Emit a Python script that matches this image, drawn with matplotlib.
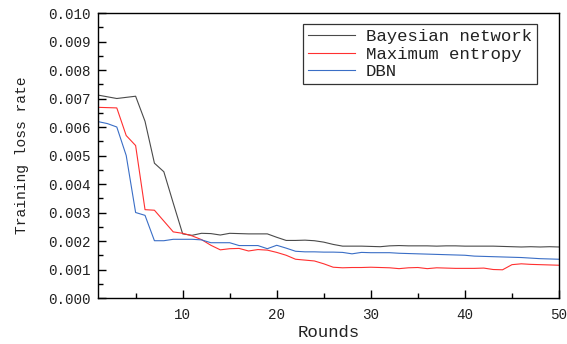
import matplotlib

matplotlib.use("Agg")
import matplotlib.pyplot as plt
from matplotlib.ticker import MultipleLocator, FormatStrFormatter

# ── values ─────────────────────────────────────────────────────────────────
ROUNDS = list(range(1, 51))
BAYES = [0.00712, 0.00706, 0.00700, 0.00704, 0.00708, 0.00620, 0.00473, 0.00443, 0.00333, 0.00225,
         0.00220, 0.00227, 0.00226, 0.00221, 0.00227, 0.00226, 0.00225, 0.00225, 0.00225, 0.00213,
         0.00202, 0.00202, 0.00203, 0.00201, 0.00196, 0.00188, 0.00182, 0.00182, 0.00182, 0.00181,
         0.00180, 0.00183, 0.00184, 0.00183, 0.00183, 0.00183, 0.00182, 0.00183, 0.00183, 0.00182,
         0.00182, 0.00182, 0.00182, 0.00181, 0.00180, 0.00179, 0.00180, 0.00179, 0.00180, 0.00179]
MAXENT = [0.00669, 0.00668, 0.00667, 0.00570, 0.00535, 0.00310, 0.00308, 0.00270, 0.00232, 0.00227,
          0.00218, 0.00205, 0.00185, 0.00169, 0.00173, 0.00174, 0.00165, 0.00170, 0.00168, 0.00160,
          0.00150, 0.00136, 0.00133, 0.00130, 0.00120, 0.00108, 0.00106, 0.00107, 0.00107, 0.00108,
          0.00107, 0.00106, 0.00103, 0.00106, 0.00107, 0.00103, 0.00106, 0.00105, 0.00104, 0.00104,
          0.00104, 0.00105, 0.00100, 0.00099, 0.00117, 0.00120, 0.00118, 0.00117, 0.00116, 0.00115]
DBN = [0.00619, 0.00612, 0.00600, 0.00500, 0.00300, 0.00290, 0.00201, 0.00201, 0.00206, 0.00206,
       0.00206, 0.00204, 0.00194, 0.00194, 0.00194, 0.00184, 0.00184, 0.00184, 0.00173, 0.00185,
       0.00175, 0.00164, 0.00162, 0.00162, 0.00161, 0.00161, 0.00160, 0.00155, 0.00160, 0.00159,
       0.00159, 0.00159, 0.00157, 0.00156, 0.00155, 0.00154, 0.00153, 0.00152, 0.00151, 0.00150,
       0.00147, 0.00146, 0.00145, 0.00144, 0.00143, 0.00142, 0.00140, 0.00138, 0.00137, 0.00136]
LABELS = ["Bayesian network", "Maximum entropy", "DBN"]

C_BAYES = "#4a4a4a"
C_MAXENT = "#ff3030"
C_DBN = "#3a6ec6"
TEXT = "#222222"
FONT = "Liberation Mono"


def main():
    plt.rcParams.update({
        "font.family": FONT,
        "axes.linewidth": 1.0,
    })

    fig = plt.figure(figsize=(5.67, 3.44), dpi=100)
    ax = fig.add_axes([0.1728, 0.1337, 0.8131, 0.8285])

    for ys, c, lab in zip((BAYES, MAXENT, DBN), (C_BAYES, C_MAXENT, C_DBN), LABELS):
        ax.plot(ROUNDS, ys, color=c, lw=0.8, label=lab)

    ax.set_xlim(1, 50)
    ax.set_ylim(0, 0.010)
    ax.xaxis.set_major_locator(MultipleLocator(10))
    ax.xaxis.set_minor_locator(MultipleLocator(5))
    ax.yaxis.set_major_locator(MultipleLocator(0.001))
    ax.yaxis.set_minor_locator(MultipleLocator(0.0005))
    ax.yaxis.set_major_formatter(FormatStrFormatter("%.3f"))
    ax.tick_params(which="both", direction="in", top=False, right=False,
                   colors="black", labelcolor=TEXT)
    ax.tick_params(which="major", length=6, width=1.0, labelsize=10.3)
    ax.tick_params(which="minor", length=3.5, width=1.0)
    ax.tick_params(axis="x", which="major", pad=7)
    ax.tick_params(axis="y", which="major", pad=5)

    ax.set_xlabel("Rounds", fontsize=12.5, color=TEXT, labelpad=2)
    ax.set_ylabel("Training loss rate", fontsize=10.5, color=TEXT, labelpad=14)

    leg = ax.legend(loc="upper right", bbox_to_anchor=(0.952, 0.961),
                    borderaxespad=0, fontsize=12.5, frameon=True, fancybox=False,
                    handlelength=2.7, handletextpad=0.6, labelspacing=0.12,
                    borderpad=0.3, labelcolor=TEXT)
    leg.get_frame().set_edgecolor("black")
    leg.get_frame().set_linewidth(0.9)

    fig.savefig("out.png", dpi=100)


if __name__ == "__main__":
    main()
